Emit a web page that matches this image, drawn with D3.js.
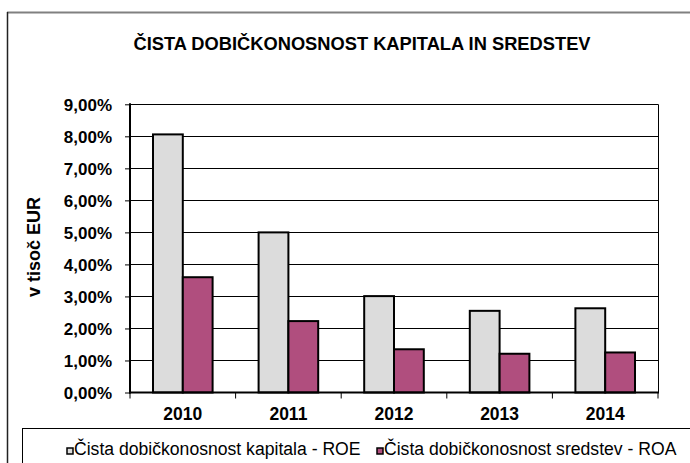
<!DOCTYPE html>
<html><head><meta charset="utf-8">
<script src="https://cdn.jsdelivr.net/npm/d3@7"></script>
<style>
html,body{margin:0;padding:0;background:#fff;}
svg{display:block;}
text{font-family:"Liberation Sans",Arial,Helvetica,sans-serif;fill:#000;}
</style></head>
<body>
<svg id="c" width="690" height="463"></svg>
<script>
const title = "ČISTA DOBIČKONOSNOST KAPITALA IN SREDSTEV";
const yTitle = "v tisoč EUR";
const categories = ["2010","2011","2012","2013","2014"];
const seriesNames = ["Čista dobičkonosnost kapitala - ROE","Čista dobičkonosnost sredstev - ROA"];
const roe = [8.06, 5.00, 3.01, 2.55, 2.63];
const roa = [3.60, 2.23, 1.35, 1.21, 1.25];
const yTicks = [0,1,2,3,4,5,6,7,8,9];
const colors = ["#dcdcdc","#b04e7e"];

(function(){
const svg = d3.select("#c");
const W = 690, H = 463;
svg.append("rect").attr("width",W).attr("height",H).attr("fill","#fff");

// outer chart border
svg.append("line").attr("x1",7).attr("x2",W).attr("y1",12.5).attr("y2",12.5).attr("stroke","#808080").attr("stroke-width",2);
svg.append("line").attr("x1",7.5).attr("x2",7.5).attr("y1",12).attr("y2",H).attr("stroke","#222").attr("stroke-width",1.5);

const pL=130, pR=658, pT=104.3, pB=392.5;
const x = d3.scaleBand().domain(categories).range([pL,pR]).paddingInner(0).paddingOuter(0);
const y = d3.scaleLinear().domain([0,9]).range([pB,pT]);

// gridlines
svg.append("g").selectAll("line").data(yTicks.filter(d=>d>0)).join("line")
  .attr("x1",pL).attr("x2",pR).attr("y1",d=>Math.round(y(d))+0.5).attr("y2",d=>Math.round(y(d))+0.5)
  .attr("stroke","#000").attr("stroke-width",1);
// right border of plot
svg.append("line").attr("x1",pR+0.5).attr("x2",pR+0.5).attr("y1",y(9)).attr("y2",pB).attr("stroke","#000").attr("stroke-width",1);

// bars
const barW = 29.8;
const series = [roe, roa];
series.forEach((vals,si)=>{
  svg.append("g").selectAll("rect").data(categories).join("rect")
    .attr("x",(d)=>x(d)+x.bandwidth()/2 - barW + si*barW)
    .attr("y",(d,i)=>y(vals[i]))
    .attr("width",barW)
    .attr("height",(d,i)=>y(0)-y(vals[i]))
    .attr("fill",colors[si]).attr("stroke","#000").attr("stroke-width",2);
});

// y axis
const yAxis = d3.axisLeft(y).tickValues(yTicks).tickSize(5).tickPadding(13)
  .tickFormat(d=>d3.format(".2f")(d).replace(".",",")+"%");
const gy = svg.append("g").attr("transform",`translate(${pL},0)`).call(yAxis);
gy.select(".domain").attr("stroke","#000").attr("stroke-width",2).attr("d",`M0,${y(9)-1}V${pB+1}`);
gy.selectAll(".tick line").attr("stroke","#000").attr("stroke-width",1);
gy.selectAll(".tick text").attr("font-size",17).attr("font-weight","bold").attr("font-family","Liberation Sans, Arial, sans-serif").attr("dy","0.36em");

// x axis
const gx = svg.append("g").attr("transform",`translate(0,${pB})`);
gx.append("line").attr("x1",pL-1).attr("x2",pR+1).attr("y1",0).attr("y2",0).attr("stroke","#000").attr("stroke-width",2);
const bounds = categories.map(c=>x(c)).concat([pR]);
gx.selectAll("line.tk").data(bounds).join("line").attr("class","tk")
  .attr("x1",d=>d).attr("x2",d=>d).attr("y1",0).attr("y2",6).attr("stroke","#000").attr("stroke-width",1);
gx.selectAll("text").data(categories).join("text")
  .attr("x",d=>x(d)+x.bandwidth()/2).attr("y",27).attr("text-anchor","middle")
  .attr("font-size",17.5).attr("font-weight","bold").text(d=>d);

// title
svg.append("text").attr("x",362).attr("y",50).attr("text-anchor","middle")
  .attr("font-size",18.3).attr("font-weight","bold").text(title);

// y title
svg.append("text").attr("transform","translate(40,247) rotate(-90)").attr("text-anchor","middle")
  .attr("font-size",18).attr("font-weight","bold").text(yTitle);

// legend
svg.append("rect").attr("x",22.5).attr("y",428.5).attr("width",700).attr("height",60).attr("fill","none").attr("stroke","#000").attr("stroke-width",1);
const legX = [67, 377];
seriesNames.forEach((n,i)=>{
  svg.append("rect").attr("x",legX[i]).attr("y",448).attr("width",6).attr("height",6)
    .attr("fill",colors[i]).attr("stroke","#000").attr("stroke-width",1.5);
  svg.append("text").attr("x",legX[i]+7).attr("y",455).attr("font-size",17.6).text(n);
});
})();
</script>
</body></html>
